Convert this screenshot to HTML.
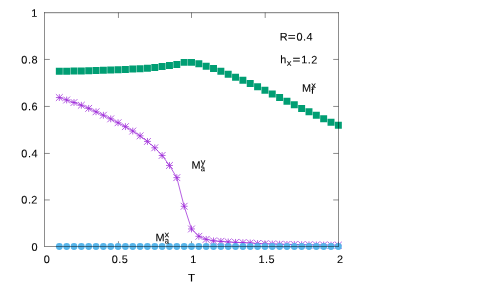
<!DOCTYPE html>
<html><head><meta charset="utf-8"><title>plot</title>
<style>
html,body{margin:0;padding:0;background:#fff;}
body{width:479px;height:287px;overflow:hidden;}
svg{display:block;will-change:transform;}
text{font-family:"Liberation Sans",sans-serif;fill:#000;stroke:#000;stroke-width:0.08px;text-rendering:geometricPrecision;}
</style></head><body>
<svg width="479" height="287" viewBox="0 0 479 287">
<rect width="479" height="287" fill="#fff"/>
<path d="M118.45 246.5v-5.3M118.45 12.65v5.3M191.50 246.5v-5.3M191.50 12.65v5.3M265.20 246.5v-5.3M265.20 12.65v5.3M44.5 199.95h5.3M338.5 199.95h-5.3M44.5 153.45h5.3M338.5 153.45h-5.3M44.5 106.45h5.3M338.5 106.45h-5.3M44.5 59.45h5.3M338.5 59.45h-5.3" stroke="#000" stroke-opacity="0.6" stroke-width="0.75" fill="none"/>
<polyline points="59.32,97.55 66.66,100.00 74.01,102.50 81.35,105.25 88.69,108.35 96.03,111.80 103.38,115.25 110.72,118.85 118.06,122.75 125.41,126.65 132.75,131.05 140.09,135.85 147.44,141.45 154.78,147.80 162.12,155.45 169.47,165.45 176.81,177.65 184.15,206.25 191.49,228.95 198.84,236.30 206.18,239.35 213.52,240.85 220.87,241.35 228.21,241.95 235.55,242.35 242.89,242.65 250.24,242.95 257.58,243.50 264.92,243.80 272.27,244.00 279.61,244.20 286.95,244.40 294.30,244.50 301.64,244.70 308.98,244.80 316.32,244.90 323.67,245.00 331.01,245.10 338.35,245.20" fill="none" stroke="#9d2bd8" stroke-width="0.75"/>
<path d="M55.92 97.55h6.8M59.32 94.15v6.8M55.92 94.15l6.8 6.8M55.92 100.95l6.8 -6.8M63.26 100.00h6.8M66.66 96.60v6.8M63.26 96.60l6.8 6.8M63.26 103.40l6.8 -6.8M70.61 102.50h6.8M74.01 99.10v6.8M70.61 99.10l6.8 6.8M70.61 105.90l6.8 -6.8M77.95 105.25h6.8M81.35 101.85v6.8M77.95 101.85l6.8 6.8M77.95 108.65l6.8 -6.8M85.29 108.35h6.8M88.69 104.95v6.8M85.29 104.95l6.8 6.8M85.29 111.75l6.8 -6.8M92.63 111.80h6.8M96.03 108.40v6.8M92.63 108.40l6.8 6.8M92.63 115.20l6.8 -6.8M99.98 115.25h6.8M103.38 111.85v6.8M99.98 111.85l6.8 6.8M99.98 118.65l6.8 -6.8M107.32 118.85h6.8M110.72 115.45v6.8M107.32 115.45l6.8 6.8M107.32 122.25l6.8 -6.8M114.66 122.75h6.8M118.06 119.35v6.8M114.66 119.35l6.8 6.8M114.66 126.15l6.8 -6.8M122.01 126.65h6.8M125.41 123.25v6.8M122.01 123.25l6.8 6.8M122.01 130.05l6.8 -6.8M129.35 131.05h6.8M132.75 127.65v6.8M129.35 127.65l6.8 6.8M129.35 134.45l6.8 -6.8M136.69 135.85h6.8M140.09 132.45v6.8M136.69 132.45l6.8 6.8M136.69 139.25l6.8 -6.8M144.04 141.45h6.8M147.44 138.05v6.8M144.04 138.05l6.8 6.8M144.04 144.85l6.8 -6.8M151.38 147.80h6.8M154.78 144.40v6.8M151.38 144.40l6.8 6.8M151.38 151.20l6.8 -6.8M158.72 155.45h6.8M162.12 152.05v6.8M158.72 152.05l6.8 6.8M158.72 158.85l6.8 -6.8M166.06 165.45h6.8M169.47 162.05v6.8M166.06 162.05l6.8 6.8M166.06 168.85l6.8 -6.8M173.41 177.65h6.8M176.81 174.25v6.8M173.41 174.25l6.8 6.8M173.41 181.05l6.8 -6.8M180.75 206.25h6.8M184.15 202.85v6.8M180.75 202.85l6.8 6.8M180.75 209.65l6.8 -6.8M188.09 228.95h6.8M191.49 225.55v6.8M188.09 225.55l6.8 6.8M188.09 232.35l6.8 -6.8M195.44 236.30h6.8M198.84 232.90v6.8M195.44 232.90l6.8 6.8M195.44 239.70l6.8 -6.8M202.78 239.35h6.8M206.18 235.95v6.8M202.78 235.95l6.8 6.8M202.78 242.75l6.8 -6.8M210.12 240.85h6.8M213.52 237.45v6.8M210.12 237.45l6.8 6.8M210.12 244.25l6.8 -6.8M217.47 241.35h6.8M220.87 237.95v6.8M217.47 237.95l6.8 6.8M217.47 244.75l6.8 -6.8M224.81 241.95h6.8M228.21 238.55v6.8M224.81 238.55l6.8 6.8M224.81 245.35l6.8 -6.8M232.15 242.35h6.8M235.55 238.95v6.8M232.15 238.95l6.8 6.8M232.15 245.75l6.8 -6.8M239.49 242.65h6.8M242.89 239.25v6.8M239.49 239.25l6.8 6.8M239.49 246.05l6.8 -6.8M246.84 242.95h6.8M250.24 239.55v6.8M246.84 239.55l6.8 6.8M246.84 246.35l6.8 -6.8M254.18 243.50h6.8M257.58 240.10v6.8M254.18 240.10l6.8 6.8M254.18 246.90l6.8 -6.8M261.52 243.80h6.8M264.92 240.40v6.8M261.52 240.40l6.8 6.8M261.52 247.20l6.8 -6.8M268.87 244.00h6.8M272.27 240.60v6.8M268.87 240.60l6.8 6.8M268.87 247.40l6.8 -6.8M276.21 244.20h6.8M279.61 240.80v6.8M276.21 240.80l6.8 6.8M276.21 247.60l6.8 -6.8M283.55 244.40h6.8M286.95 241.00v6.8M283.55 241.00l6.8 6.8M283.55 247.80l6.8 -6.8M290.90 244.50h6.8M294.30 241.10v6.8M290.90 241.10l6.8 6.8M290.90 247.90l6.8 -6.8M298.24 244.70h6.8M301.64 241.30v6.8M298.24 241.30l6.8 6.8M298.24 248.10l6.8 -6.8M305.58 244.80h6.8M308.98 241.40v6.8M305.58 241.40l6.8 6.8M305.58 248.20l6.8 -6.8M312.93 244.90h6.8M316.32 241.50v6.8M312.93 241.50l6.8 6.8M312.93 248.30l6.8 -6.8M320.27 245.00h6.8M323.67 241.60v6.8M320.27 241.60l6.8 6.8M320.27 248.40l6.8 -6.8M327.61 245.10h6.8M331.01 241.70v6.8M327.61 241.70l6.8 6.8M327.61 248.50l6.8 -6.8M334.95 245.20h6.8M338.35 241.80v6.8M334.95 241.80l6.8 6.8M334.95 248.60l6.8 -6.8" stroke="#9d2bd8" stroke-width="0.75" fill="none"/>
<path d="M55.84 67.83h6.95v6.95h-6.95zM63.19 67.73h6.95v6.95h-6.95zM70.53 67.53h6.95v6.95h-6.95zM77.87 67.43h6.95v6.95h-6.95zM85.22 67.23h6.95v6.95h-6.95zM92.56 67.03h6.95v6.95h-6.95zM99.90 66.83h6.95v6.95h-6.95zM107.25 66.62h6.95v6.95h-6.95zM114.59 66.23h6.95v6.95h-6.95zM121.93 65.93h6.95v6.95h-6.95zM129.28 65.58h6.95v6.95h-6.95zM136.62 65.23h6.95v6.95h-6.95zM143.96 64.83h6.95v6.95h-6.95zM151.30 63.98h6.95v6.95h-6.95zM158.65 63.12h6.95v6.95h-6.95zM165.99 62.12h6.95v6.95h-6.95zM173.33 61.12h6.95v6.95h-6.95zM180.68 58.92h6.95v6.95h-6.95zM188.02 58.92h6.95v6.95h-6.95zM195.36 60.23h6.95v6.95h-6.95zM202.71 62.73h6.95v6.95h-6.95zM210.05 64.93h6.95v6.95h-6.95zM217.39 67.78h6.95v6.95h-6.95zM224.73 70.83h6.95v6.95h-6.95zM232.08 73.73h6.95v6.95h-6.95zM239.42 76.83h6.95v6.95h-6.95zM246.76 79.93h6.95v6.95h-6.95zM254.11 83.23h6.95v6.95h-6.95zM261.45 86.83h6.95v6.95h-6.95zM268.79 90.43h6.95v6.95h-6.95zM276.13 93.93h6.95v6.95h-6.95zM283.48 97.73h6.95v6.95h-6.95zM290.82 101.28h6.95v6.95h-6.95zM298.16 104.93h6.95v6.95h-6.95zM305.51 108.33h6.95v6.95h-6.95zM312.85 111.83h6.95v6.95h-6.95zM320.19 115.28h6.95v6.95h-6.95zM327.54 118.73h6.95v6.95h-6.95zM334.88 121.83h6.95v6.95h-6.95z" fill="#009e73"/>
<g fill="#56b4e9"><circle cx="59.32" cy="246.5" r="3.42"/><circle cx="66.66" cy="246.5" r="3.42"/><circle cx="74.01" cy="246.5" r="3.42"/><circle cx="81.35" cy="246.5" r="3.42"/><circle cx="88.69" cy="246.5" r="3.42"/><circle cx="96.03" cy="246.5" r="3.42"/><circle cx="103.38" cy="246.5" r="3.42"/><circle cx="110.72" cy="246.5" r="3.42"/><circle cx="118.06" cy="246.5" r="3.42"/><circle cx="125.41" cy="246.5" r="3.42"/><circle cx="132.75" cy="246.5" r="3.42"/><circle cx="140.09" cy="246.5" r="3.42"/><circle cx="147.44" cy="246.5" r="3.42"/><circle cx="154.78" cy="246.5" r="3.42"/><circle cx="162.12" cy="246.5" r="3.42"/><circle cx="169.47" cy="246.5" r="3.42"/><circle cx="176.81" cy="246.5" r="3.42"/><circle cx="184.15" cy="246.5" r="3.42"/><circle cx="191.49" cy="246.5" r="3.42"/><circle cx="198.84" cy="246.5" r="3.42"/><circle cx="206.18" cy="246.5" r="3.42"/><circle cx="213.52" cy="246.5" r="3.42"/><circle cx="220.87" cy="246.5" r="3.42"/><circle cx="228.21" cy="246.5" r="3.42"/><circle cx="235.55" cy="246.5" r="3.42"/><circle cx="242.89" cy="246.5" r="3.42"/><circle cx="250.24" cy="246.5" r="3.42"/><circle cx="257.58" cy="246.5" r="3.42"/><circle cx="264.92" cy="246.5" r="3.42"/><circle cx="272.27" cy="246.5" r="3.42"/><circle cx="279.61" cy="246.5" r="3.42"/><circle cx="286.95" cy="246.5" r="3.42"/><circle cx="294.30" cy="246.5" r="3.42"/><circle cx="301.64" cy="246.5" r="3.42"/><circle cx="308.98" cy="246.5" r="3.42"/><circle cx="316.32" cy="246.5" r="3.42"/><circle cx="323.67" cy="246.5" r="3.42"/><circle cx="331.01" cy="246.5" r="3.42"/><circle cx="338.35" cy="246.5" r="3.42"/></g>
<text transform="matrix(1 0.001 0 1 0 250.769)" x="31.40" font-size="10.9">0</text>
<text transform="matrix(1 0.001 0 1 0 203.579)" x="21.33 27.88 31.26" font-size="10.9">0.2</text>
<text transform="matrix(1 0.001 0 1 0 157.179)" x="21.33 27.88 31.40" font-size="10.9">0.4</text>
<text transform="matrix(1 0.001 0 1 0 110.179)" x="21.33 27.88 31.40" font-size="10.9">0.6</text>
<text transform="matrix(1 0.001 0 1 0 63.379)" x="21.33 27.88 31.40" font-size="10.9">0.8</text>
<text transform="matrix(1 0.001 0 1 0 16.669)" x="31.35" font-size="10.9">1</text>
<text transform="matrix(1 0.001 0 1 0 262.906)" x="43.68" font-size="10.9">0</text>
<text transform="matrix(1 0.001 0 1 0 262.838)" x="111.82 118.37 121.85" font-size="10.9">0.5</text>
<text transform="matrix(1 0.001 0 1 0 262.760)" x="190.31" font-size="10.9">1</text>
<text transform="matrix(1 0.001 0 1 0 262.692)" x="258.47 265.07 268.55" font-size="10.9">1.5</text>
<text transform="matrix(1 0.001 0 1 0 262.613)" x="337.06" font-size="10.9">2</text>
<text transform="matrix(1 0.001 0 1 0 281.212)" font-size="10.9"><tspan x="187.95" textLength="7.03" lengthAdjust="spacingAndGlyphs">T</tspan></text>
<text transform="matrix(1 0.001 0 1 0 40.220)" font-size="10.9"><tspan x="279.85">R</tspan><tspan x="287.73" textLength="7.94" lengthAdjust="spacingAndGlyphs">=</tspan><tspan x="296.44 302.99 306.51">0.4</tspan></text>
<text transform="matrix(1 0.001 0 1 0 63.070)" font-size="10.9"><tspan x="280.32">h</tspan><tspan x="286.82" textLength="4.68" lengthAdjust="spacingAndGlyphs" dy="2.5" font-size="8.6">x</tspan><tspan x="292.54" textLength="7.94" lengthAdjust="spacingAndGlyphs" dy="-2.5">=</tspan><tspan x="301.19 307.79 311.17">1.2</tspan></text>
<text transform="matrix(1 0.001 0 1 0 91.498)" font-size="10.9"><tspan x="301.93">M</tspan><tspan x="311.16" textLength="4.68" lengthAdjust="spacingAndGlyphs" dy="-3.80" font-size="8.6">x</tspan><tspan x="311.06" textLength="3.08" lengthAdjust="spacingAndGlyphs" dy="5.85" font-size="8.6">f</tspan></text>
<text transform="matrix(1 0.001 0 1 0 168.458)" font-size="10.9"><tspan x="191.56">M</tspan><tspan x="200.88" textLength="4.53" lengthAdjust="spacingAndGlyphs" dy="-3.90" font-size="8.6">y</tspan><tspan x="200.84" textLength="4.22" lengthAdjust="spacingAndGlyphs" dy="6.45" font-size="8.6">a</tspan></text>
<text transform="matrix(1 0.001 0 1 0 241.145)" font-size="10.9"><tspan x="155.38">M</tspan><tspan x="164.61" textLength="4.68" lengthAdjust="spacingAndGlyphs" dy="-4.05" font-size="8.6">x</tspan><tspan x="164.66" textLength="4.22" lengthAdjust="spacingAndGlyphs" dy="6.35" font-size="8.6">a</tspan></text>
<path d="M44.5 12.275V246.875M338.5 12.275V246.875M44.5 246.5H338.5" fill="none" stroke="#000" stroke-opacity="0.6" stroke-width="0.75"/>
<path d="M44.125 12.700000000000001H338.875" fill="none" stroke="#000" stroke-opacity="0.6" stroke-width="0.9"/>
</svg>
</body></html>
